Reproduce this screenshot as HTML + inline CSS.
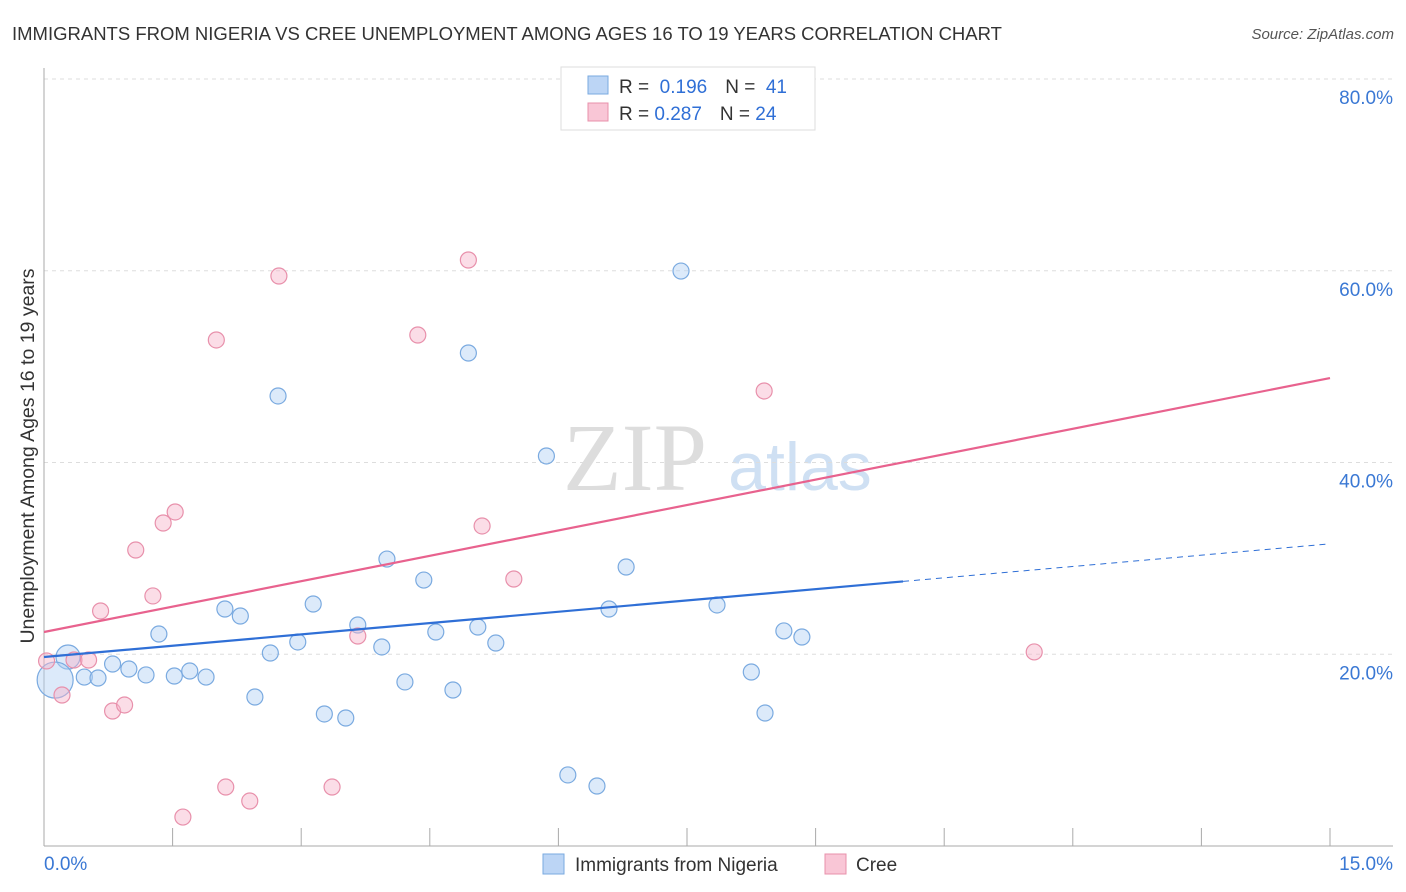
<!DOCTYPE html>
<html><head><meta charset="utf-8"><style>
body{margin:0;background:#fff;font-family:"Liberation Sans",sans-serif;}
svg{display:block}
</style></head><body>
<svg id="chart" width="1406" height="892">
<text x="12" y="40" font-size="18.5" fill="#333">IMMIGRANTS FROM NIGERIA VS CREE UNEMPLOYMENT AMONG AGES 16 TO 19 YEARS CORRELATION CHART</text>
<text x="1394" y="39" font-size="15" fill="#555" font-style="italic" text-anchor="end">Source: ZipAtlas.com</text>
<text x="635" y="490" font-size="96" fill="#ddd" font-family="Liberation Serif,serif" text-anchor="middle">ZIP</text>
<text x="800" y="490" font-size="68" fill="#cfe0f3" text-anchor="middle">atlas</text>
<g id="grid"></g><g id="axes"></g><g id="marks"></g>
<text transform="translate(34,456) rotate(-90)" font-size="19.5" fill="#333" text-anchor="middle">Unemployment Among Ages 16 to 19 years</text>
<g>
<rect x="561" y="67" width="254" height="63" fill="#fff" stroke="#ddd"/>
<rect x="588" y="76" width="20" height="18" fill="#bcd5f5" stroke="#7aaae0"/>
<rect x="588" y="103" width="20" height="18" fill="#f9c6d6" stroke="#e890ab"/>
<text x="619" y="93" font-size="19" fill="#333">R = <tspan fill="#2f6fd6">&#160;0.196</tspan><tspan dx="18" fill="#333">N = </tspan><tspan fill="#2f6fd6">&#160;41</tspan></text>
<text x="619" y="120" font-size="19" fill="#333">R = <tspan fill="#2f6fd6">0.287</tspan><tspan dx="18" fill="#333">N = </tspan><tspan fill="#2f6fd6">24</tspan></text>
</g>
<g>
<rect x="543" y="854" width="21" height="20" fill="#bcd5f5" stroke="#7aaae0"/>
<text x="575" y="871" font-size="19" fill="#333">Immigrants from Nigeria</text>
<rect x="825" y="854" width="21" height="20" fill="#f9c6d6" stroke="#e890ab"/>
<text x="856" y="871" font-size="19" fill="#333">Cree</text>
</g>
</svg>
<script>
const yTicks=[20,40,60,80];
const yTickLabels=["20.0%","40.0%","60.0%","80.0%"];
const xTicks=[0,1.5,3,4.5,6,7.5,9,10.5,12,13.5,15];
const blueX=[0.28,0.13,0.47,0.63,0.80,0.99,1.19,1.34,1.52,1.70,1.89,2.11,2.29,2.46,2.64,2.73,2.96,3.14,3.27,3.52,3.66,3.94,4.00,4.21,4.43,4.57,4.77,4.95,5.06,5.27,5.86,6.11,6.45,6.59,6.79,7.43,7.85,8.25,8.41,8.63,8.84];
const blueY=[19.71,17.31,17.62,17.52,18.98,18.46,17.84,22.11,17.73,18.25,17.62,24.72,23.99,15.54,20.13,46.94,21.28,25.24,13.77,13.35,23.05,20.76,29.93,17.11,27.74,22.32,16.27,51.42,22.84,21.17,40.68,7.41,6.26,24.72,29.10,59.97,25.14,18.15,13.87,22.43,21.80];
const blueR=[12,18,8,8,8,8,8,8,8,8,8,8,8,8,8,8,8,8,8,8,8,8,8,8,8,8,8,8,8,8,8,8,8,8,8,8,8,8,8,8,8];
const pinkX=[0.03,0.21,0.35,0.52,0.66,0.80,0.94,1.07,1.27,1.39,1.53,1.62,2.01,2.12,2.40,2.74,3.36,3.66,4.36,4.95,5.11,5.48,8.40,11.55];
const pinkY=[19.30,15.75,19.40,19.40,24.51,14.08,14.71,30.87,26.08,33.69,34.84,3.02,52.78,6.15,4.69,59.45,6.15,21.90,53.30,61.12,33.38,27.85,47.46,20.24];
const blueTrend=[19.71,0.787]; // intercept, slope
const blueSolidEnd=10.02;
const pinkTrend=[22.32,1.766];
const X=v=>44+v/15*1286, Y=v=>846-v*9.5875;
const NS="http://www.w3.org/2000/svg";
function mk(parent,tag,attrs){const e=document.createElementNS(NS,tag);for(const k in attrs)e.setAttribute(k,attrs[k]);document.getElementById(parent).appendChild(e);return e;}
yTicks.forEach((t,i)=>{
 const l=mk('grid','line',{x1:44,x2:1393,y1:Y(t),y2:Y(t),stroke:'#ddd','stroke-dasharray':'4,4'});
 
 
 const tx=mk('grid','text',{x:1393,y:Y(t)+25,'font-size':19,fill:'#3a78d4','text-anchor':'end'});
 tx.textContent=yTickLabels[i];
 
 
});
mk('axes','line',{x1:44,x2:44,y1:68,y2:846,stroke:'#aaa'});
mk('axes','line',{x1:44,x2:1393,y1:846,y2:846,stroke:'#aaa'});
xTicks.forEach(t=>{const l=mk('axes','line',{x1:X(t),x2:X(t),y1:828,y2:846,stroke:'#aaa'});
 
 });
const xl=mk('axes','text',{x:44,y:870,'font-size':19,fill:'#3a78d4'});xl.textContent='0.0%';


const xr=mk('axes','text',{x:1393,y:870,'font-size':19,fill:'#3a78d4','text-anchor':'end'});xr.textContent='15.0%';


blueX.forEach((x,i)=>{const c=mk('marks','circle',{cx:X(x),cy:Y(blueY[i]),r:blueR[i],fill:'rgba(178,208,245,0.45)',stroke:'#7aaae0','stroke-width':1.2});
 
 });
pinkX.forEach((x,i)=>{const c=mk('marks','circle',{cx:X(x),cy:Y(pinkY[i]),r:8,fill:'rgba(247,180,202,0.45)',stroke:'#e890ab','stroke-width':1.2});
 
 });
const bl=mk('marks','line',{x1:X(0),y1:Y(blueTrend[0]),x2:X(blueSolidEnd),y2:Y(blueTrend[0]+blueTrend[1]*blueSolidEnd),stroke:'#2f6fd6','stroke-width':2.2});


const bd=mk('marks','line',{x1:X(blueSolidEnd),y1:Y(blueTrend[0]+blueTrend[1]*blueSolidEnd),x2:X(15),y2:Y(blueTrend[0]+blueTrend[1]*15),stroke:'#2f6fd6','stroke-width':1,'stroke-dasharray':'6,5'});


const pl=mk('marks','line',{x1:X(0),y1:Y(pinkTrend[0]),x2:X(15),y2:Y(pinkTrend[0]+pinkTrend[1]*15),stroke:'#e8628e','stroke-width':2.2});


</script>
</body></html>
